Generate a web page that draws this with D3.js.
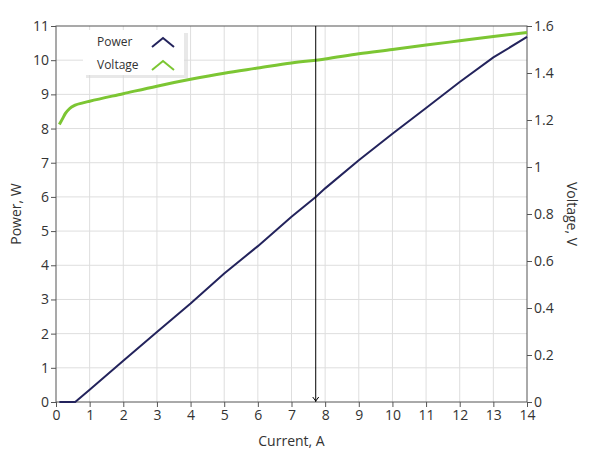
<!DOCTYPE html>
<html>
<head>
<meta charset="utf-8">
<script src="https://cdn.jsdelivr.net/npm/d3@7"></script>
<style>
  body { margin: 0; background: #fff; }
  svg text { font-family: "Open Sans", "Noto Sans", sans-serif; fill: #333; }
</style>
</head>
<body>
<script>
// data
var current = [0.1, 0.57, 1, 2, 3, 4, 5, 6, 7, 7.72, 8, 9, 10, 11, 12, 13, 14];
var power   = [0, 0, 0.36, 1.21, 2.05, 2.88, 3.76, 4.56, 5.42, 6.0, 6.25, 7.07, 7.85, 8.6, 9.36, 10.08, 10.68];
var vCurrent = [0.1, 0.2, 0.28, 0.4, 0.57, 0.8, 1, 2, 3, 4, 5, 6, 7, 8, 9, 10, 11, 12, 13, 14];
var voltage  = [1.181, 1.207, 1.228, 1.248, 1.263, 1.273, 1.280, 1.312, 1.344, 1.373, 1.399, 1.421, 1.443, 1.460, 1.482, 1.500, 1.519, 1.537, 1.555, 1.572];
var xTicks = d3.range(0, 15);
var powerTicks = d3.range(0, 12);
var voltTicks = [0, 0.2, 0.4, 0.6, 0.8, 1, 1.2, 1.4, 1.6];
var cursorX = 7.72;
var seriesNames = ["Power", "Voltage"];
var seriesColors = ["#23235c", "#7cc633"];

var W = 593, H = 467;
var margin = {top: 26, right: 66, bottom: 65, left: 56};
var width = W - margin.left - margin.right,
    height = H - margin.top - margin.bottom;

var svg = d3.select("body").append("svg")
    .attr("width", W).attr("height", H);
var g = svg.append("g")
    .attr("transform", "translate(" + margin.left + "," + margin.top + ")");

var x = d3.scaleLinear().domain([0, 14]).range([0, width]);
var yP = d3.scaleLinear().domain([0, 11]).range([height, 0]);
var yV = d3.scaleLinear().domain([0, 1.6]).range([height, 0]);

// grid
g.append("g").selectAll("line").data(xTicks.slice(1, -1)).enter().append("line")
    .attr("x1", d => x(d)).attr("x2", d => x(d))
    .attr("y1", 0).attr("y2", height)
    .attr("stroke", "#dedede");
g.append("g").selectAll("line").data(powerTicks.slice(1, -1)).enter().append("line")
    .attr("y1", d => yP(d)).attr("y2", d => yP(d))
    .attr("x1", 0).attr("x2", width)
    .attr("stroke", "#dedede");

// frame
g.append("rect").attr("width", width).attr("height", height)
    .attr("fill", "none").attr("stroke", "#555").attr("stroke-width", 1);

// axes
var styleAxis = function(sel) {
  sel.select(".domain").remove();
  sel.selectAll(".tick line").attr("stroke", "#555");
  sel.selectAll(".tick text").style("font-size", "14px").attr("fill", "#333");
};
g.append("g").attr("transform", "translate(0," + height + ")")
  .call(d3.axisBottom(x).tickValues(xTicks).tickFormat(d3.format("d")).tickSize(5).tickPadding(3))
  .call(styleAxis);
g.append("g")
  .call(d3.axisLeft(yP).tickValues(powerTicks).tickFormat(d3.format("d")).tickSize(5).tickPadding(2))
  .call(styleAxis);
g.append("g").attr("transform", "translate(" + width + ",0)")
  .call(d3.axisRight(yV).tickValues(voltTicks).tickFormat(d => d3.format("")(+d.toFixed(1))).tickSize(5).tickPadding(2))
  .call(styleAxis);

// axis titles
svg.append("text").attr("x", margin.left + width / 2).attr("y", 446)
  .attr("text-anchor", "middle").style("font-size", "14px").text("Current, A");
svg.append("text").attr("transform", "translate(21," + (margin.top + height / 2) + ") rotate(-90)")
  .attr("text-anchor", "middle").style("font-size", "14px").text("Power, W");
svg.append("text").attr("transform", "translate(567," + (margin.top + height / 2) + ") rotate(90)")
  .attr("text-anchor", "middle").style("font-size", "14px").text("Voltage, V");

// lines
var powerLine = d3.line().x((d, i) => x(current[i])).y(d => yP(d));
var voltLine = d3.line().x((d, i) => x(vCurrent[i])).y(d => yV(d)).curve(d3.curveMonotoneX);
g.append("path").datum(voltage).attr("d", voltLine)
  .attr("fill", "none").attr("stroke", seriesColors[1]).attr("stroke-width", 3);
g.append("path").datum(power).attr("d", powerLine)
  .attr("fill", "none").attr("stroke", seriesColors[0]).attr("stroke-width", 2);

// cursor
g.append("line").attr("x1", x(cursorX)).attr("x2", x(cursorX))
  .attr("y1", 0).attr("y2", height).attr("stroke", "#000").attr("stroke-width", 1);
g.append("path")
  .attr("d", "M" + (x(cursorX) - 3) + "," + (height - 5) + "L" + x(cursorX) + "," + (height - 1) + "L" + (x(cursorX) + 3) + "," + (height - 5))
  .attr("fill", "none").attr("stroke", "#000").attr("stroke-width", 1);

// legend
var lg = svg.append("g").attr("transform", "translate(83,30)");
lg.append("rect").attr("x", 3).attr("y", 3).attr("width", 102).attr("height", 45).attr("fill", "#d8d8d8").attr("opacity", 0.6);
lg.append("rect").attr("width", 101).attr("height", 45).attr("fill", "#fff");
seriesNames.forEach(function(name, i) {
  var yy = 12 + i * 23;
  lg.append("text").attr("x", 14).attr("y", yy + 4).style("font-size", "12px").text(name);
  lg.append("path")
    .attr("d", "M69," + (yy + 5) + "L80," + (yy - 4) + "L91," + (yy + 5))
    .attr("fill", "none").attr("stroke", seriesColors[i]).attr("stroke-width", 2);
});
</script>
</body>
</html>
